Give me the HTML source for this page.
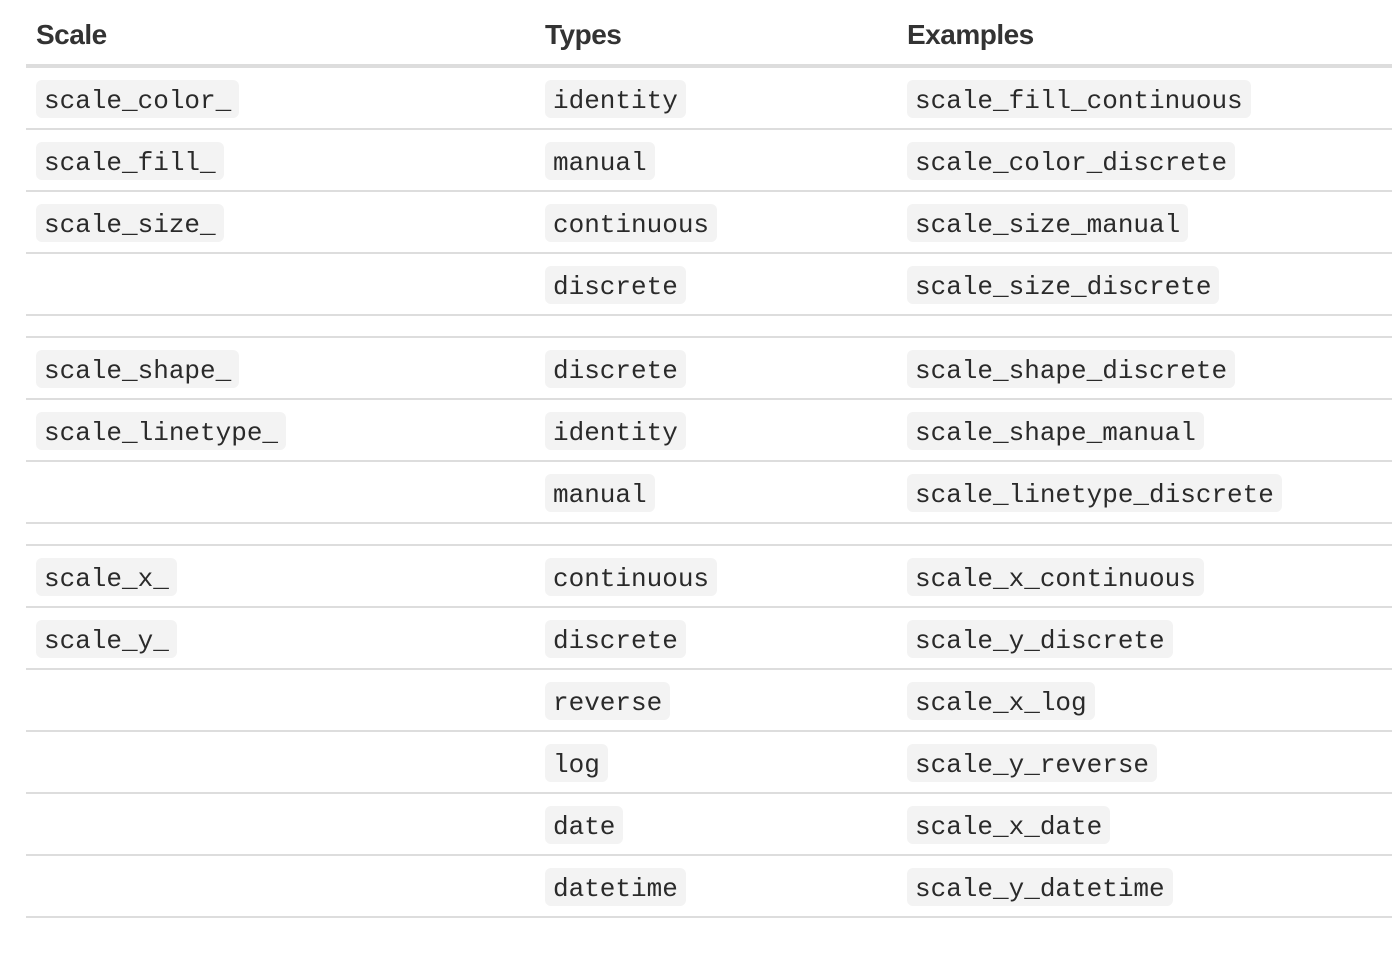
<!DOCTYPE html>
<html><head><meta charset="utf-8"><style>
body{margin:0;width:1392px;height:960px;background:#fff;position:relative;overflow:hidden;font-family:"Liberation Sans",sans-serif;color:#333}
.h{position:absolute;top:17px;font-weight:bold;font-size:28px;line-height:36px;letter-spacing:-0.5px}
.l{position:absolute;left:26px;width:1366px;height:2px;background:#ddd}
.c{position:absolute;height:38px;line-height:42px;padding:0 8px;background:#f3f3f3;border-radius:6px;font-family:"Liberation Mono",monospace;font-size:26px;color:#2a2a2a;white-space:pre;overflow:hidden}
</style></head><body>
<div class="h" style="left:36px">Scale</div>
<div class="h" style="left:545px">Types</div>
<div class="h" style="left:907px">Examples</div>
<div class="l" style="top:64px;height:4px"></div>
<div class="l" style="top:128px"></div><div class="l" style="top:190px"></div><div class="l" style="top:252px"></div><div class="l" style="top:314px"></div><div class="l" style="top:336px"></div><div class="l" style="top:398px"></div><div class="l" style="top:460px"></div><div class="l" style="top:522px"></div><div class="l" style="top:544px"></div><div class="l" style="top:606px"></div><div class="l" style="top:668px"></div><div class="l" style="top:730px"></div><div class="l" style="top:792px"></div><div class="l" style="top:854px"></div><div class="l" style="top:916px"></div>

<div class="c" style="left:36px;top:80px">scale_color_</div><div class="c" style="left:545px;top:80px">identity</div><div class="c" style="left:907px;top:80px">scale_fill_continuous</div>
<div class="c" style="left:36px;top:142px">scale_fill_</div><div class="c" style="left:545px;top:142px">manual</div><div class="c" style="left:907px;top:142px">scale_color_discrete</div>
<div class="c" style="left:36px;top:204px">scale_size_</div><div class="c" style="left:545px;top:204px">continuous</div><div class="c" style="left:907px;top:204px">scale_size_manual</div>
<div class="c" style="left:545px;top:266px">discrete</div><div class="c" style="left:907px;top:266px">scale_size_discrete</div>
<div class="c" style="left:36px;top:350px">scale_shape_</div><div class="c" style="left:545px;top:350px">discrete</div><div class="c" style="left:907px;top:350px">scale_shape_discrete</div>
<div class="c" style="left:36px;top:412px">scale_linetype_</div><div class="c" style="left:545px;top:412px">identity</div><div class="c" style="left:907px;top:412px">scale_shape_manual</div>
<div class="c" style="left:545px;top:474px">manual</div><div class="c" style="left:907px;top:474px">scale_linetype_discrete</div>
<div class="c" style="left:36px;top:558px">scale_x_</div><div class="c" style="left:545px;top:558px">continuous</div><div class="c" style="left:907px;top:558px">scale_x_continuous</div>
<div class="c" style="left:36px;top:620px">scale_y_</div><div class="c" style="left:545px;top:620px">discrete</div><div class="c" style="left:907px;top:620px">scale_y_discrete</div>
<div class="c" style="left:545px;top:682px">reverse</div><div class="c" style="left:907px;top:682px">scale_x_log</div>
<div class="c" style="left:545px;top:744px">log</div><div class="c" style="left:907px;top:744px">scale_y_reverse</div>
<div class="c" style="left:545px;top:806px">date</div><div class="c" style="left:907px;top:806px">scale_x_date</div>
<div class="c" style="left:545px;top:868px">datetime</div><div class="c" style="left:907px;top:868px">scale_y_datetime</div>
</body></html>
